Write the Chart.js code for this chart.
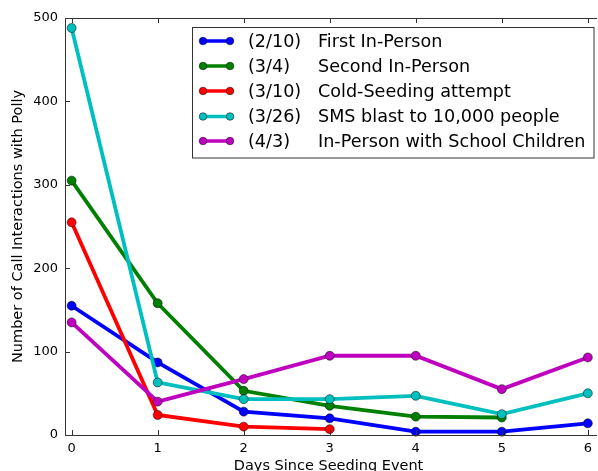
<!DOCTYPE html>
<html>
<head>
<meta charset="utf-8">
<script src="https://cdn.jsdelivr.net/npm/chart.js@4/dist/chart.umd.min.js"></script>
<style>
html,body{margin:0;padding:0;background:#fff;}
#wrap{width:598px;height:471px;position:relative;}
</style>
</head>
<body>
<div id="wrap"><canvas id="c" width="598" height="471"></canvas></div>
<script>
const days = [0, 1, 2, 3, 4, 5, 6];
const legendDates = ['(2/10)', '(3/4)', '(3/10)', '(3/26)', '(4/3)'];
const legendNames = ['First In-Person', 'Second In-Person', 'Cold-Seeding attempt', 'SMS blast to 10,000 people', 'In-Person with School Children'];
const firstInPerson = [155, 87, 28, 20, 4, 4, 14];
const secondInPerson = [305, 158, 53, 35, 22, 21];
const coldSeeding = [255, 24, 10, 7];
const smsBlast = [488, 63, 43, 43, 47, 25, 50];
const schoolChildren = [135, 40, 67, 95, 95, 55, 93];
const yTicks = [0, 100, 200, 300, 400, 500];
const xTicks = [0, 1, 2, 3, 4, 5, 6];

const seriesValues = [firstInPerson, secondInPerson, coldSeeding, smsBlast, schoolChildren];
const colors = ['#0000ff', '#008000', '#ff0000', '#00bfbf', '#bf00bf'];
const FONT = '"DejaVu Sans", Verdana, sans-serif';

const datasets = seriesValues.map((vals, i) => ({
  label: legendDates[i] + ' ' + legendNames[i],
  data: vals.map((v, k) => ({x: days[k], y: v})),
  borderColor: colors[i],
  backgroundColor: colors[i],
  borderWidth: 3.8,
  pointRadius: 4.5,
  pointBorderColor: '#000',
  pointBorderWidth: 0.5,
  pointBackgroundColor: colors[i],
  tension: 0,
  fill: false,
  clip: false,
  order: 5 - i
}));

const framePlugin = {
  id: 'frame',
  afterDraw(chart) {
    const ctx = chart.ctx;
    const a = chart.chartArea;
    const xs = chart.scales.x, ys = chart.scales.y;
    ctx.save();
    ctx.strokeStyle = '#333';
    ctx.lineWidth = 1;
    ctx.beginPath();
    ctx.moveTo(a.left + 0.5, a.bottom + 0.5);
    ctx.lineTo(a.left + 0.5, a.top + 0.5);
    ctx.lineTo(a.right + 5, a.top + 0.5);
    ctx.moveTo(a.left + 0.5, a.bottom + 0.5);
    ctx.lineTo(a.right + 5, a.bottom + 0.5);
    const tl = 5;
    xTicks.forEach(v => {
      const px = Math.round(xs.getPixelForValue(v)) + 0.5;
      ctx.moveTo(px, a.bottom); ctx.lineTo(px, a.bottom - tl);
      ctx.moveTo(px, a.top); ctx.lineTo(px, a.top + tl);
    });
    yTicks.forEach(v => {
      const py = Math.round(ys.getPixelForValue(v)) + 0.5;
      ctx.moveTo(a.left, py); ctx.lineTo(a.left + tl, py);
    });
    ctx.stroke();

    // legend
    const bx = 192.5, by = 27.5, bw = 401.5, bh = 130.5;
    ctx.fillStyle = '#fff';
    ctx.fillRect(bx, by, bw, bh);
    ctx.strokeStyle = '#333';
    ctx.strokeRect(bx, by, bw, bh);
    ctx.font = '17.6px ' + FONT;
    ctx.textBaseline = 'middle';
    ctx.textAlign = 'left';
    const rowY = [41, 66, 91, 116.5, 141];
    seriesValues.forEach((_, i) => {
      const y = rowY[i];
      ctx.strokeStyle = colors[i];
      ctx.lineWidth = 3.5;
      ctx.beginPath();
      ctx.moveTo(203, y); ctx.lineTo(230, y);
      ctx.stroke();
      [203, 230].forEach(px => {
        ctx.beginPath();
        ctx.arc(px, y, 3.8, 0, Math.PI * 2);
        ctx.fillStyle = colors[i];
        ctx.fill();
        ctx.lineWidth = 0.5;
        ctx.strokeStyle = '#000';
        ctx.stroke();
      });
      ctx.fillStyle = '#000';
      ctx.fillText(legendDates[i], 248, y + 1);
      ctx.fillText(legendNames[i], 318, y + 1);
    });
    ctx.restore();
  }
};

new Chart(document.getElementById('c'), {
  type: 'line',
  data: { datasets },
  options: {
    responsive: false,
    animation: false,
    events: [],
    layout: { padding: { left: 0, right: 0, top: 18, bottom: 0 } },
    plugins: { legend: { display: false }, tooltip: { enabled: false } },
    scales: {
      x: {
        type: 'linear',
        min: -0.077,
        max: 6.049,
        afterBuildTicks(scale) { scale.ticks = xTicks.map(v => ({value: v})); },
        afterFit(scale) { scale.height = 36; },
        grid: { display: false, drawTicks: false },
        border: { display: false },
        ticks: { color: '#000', font: { family: FONT, size: 13 }, padding: 6, maxRotation: 0, autoSkip: false },
        title: { display: true, text: 'Days Since Seeding Event', color: '#000', font: { family: FONT, size: 14.5 }, padding: { top: 0, bottom: -4 } }
      },
      y: {
        type: 'linear',
        min: 0,
        max: 500,
        afterBuildTicks(scale) { scale.ticks = yTicks.map(v => ({value: v})); },
        afterFit(scale) { scale.width = 65; },
        grid: { display: false, drawTicks: false },
        border: { display: false },
        ticks: { color: '#000', font: { family: FONT, size: 13 }, padding: 7 },
        title: { display: true, text: 'Number of Call Interactions with Polly', color: '#000', font: { family: FONT, size: 14.5 }, padding: { top: 10, bottom: 0 } }
      }
    }
  },
  plugins: [framePlugin]
});
</script>
</body>
</html>
